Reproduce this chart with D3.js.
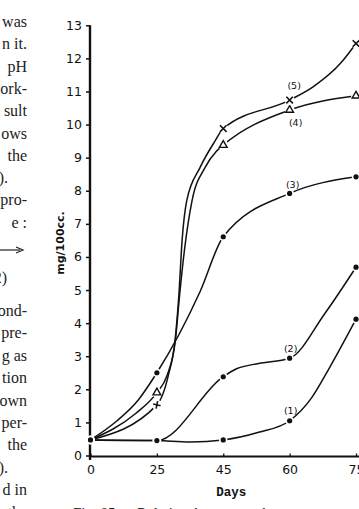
<!DOCTYPE html>
<html>
<head>
<meta charset="utf-8">
<script src="https://cdn.jsdelivr.net/npm/d3@7"></script>
<style>
html, body { margin: 0; padding: 0; background: #fff; overflow: hidden; }
svg { display: block; }
</style>
</head>
<body>
<svg id="chart"></svg>
<script>
// sampling days and their tick labels
const days = [0, 25, 45, 60, 75];
const dayLabels = ["0", "25", "45", "60", "75"];
const yTickValues = d3.range(0, 14);

// mg/100cc at each sampling day, curves (1) .. (5)
const curve1 = [0.47, 0.45, 0.47, 1.05, 4.12];
const curve2 = [0.47, 0.45, 2.38, 2.94, 5.69];
const curve3 = [0.47, 2.5, 6.61, 7.92, 8.42];
const curve4 = [0.47, 1.9, 9.38, 10.44, 10.87];
const curve5 = [0.47, 1.53, 9.88, 10.74, 12.45];

const bend1 = [[35, 0.41], [53, 0.7], [65, 1.75], [69, 2.65]];
const bend2 = [[48, 2.62], [53, 2.78], [68, 4.3]];
const bend3 = [[10, 1.05], [18, 1.68], [38, 4.95]];
const bend4 = [[17, 1.27], [28, 2.4], [30.6, 3.5], [31.8, 4.8], [33.3, 6.2], [35.6, 7.7], [39.5, 8.7], [43, 9.2]];
const bend5 = [[28.4, 2.4], [30.5, 3.5], [31.6, 4.8], [32.6, 6.5], [34, 7.7], [38, 8.7], [42.5, 9.5], [65.3, 11.14], [71.5, 11.85]];

const curveNames = ["(1)", "(2)", "(3)", "(4)", "(5)"];
const curveMarks = ["dot", "dot", "dot", "triangle", "x"];

// what shows of the book page around the figure
const pageTop = ["was", "n it.", "pH", "ork-", "sult", "ows", "the", ").", "pro-", "e :"];
const pageBottom = ["ond-", "pre-", "g as", "tion", "own", "per-", "the", ").", "d in", "the"];

class DaysChart {
    constructor(config) {
        this.config = {
            parent: config.parent,
            width: config.width || 359,
            height: config.height || 509,
            series: config.series,
            bends: config.bends
        };
        this.init();
    }

    init() {
        let self = this;

        self.svg = d3.select(self.config.parent)
            .attr("width", self.config.width)
            .attr("height", self.config.height)
            .style("background", "#fff");

        self.xPoint = d3.scalePoint()
            .domain(dayLabels)
            .range([90.5, 356]);

        // days are spaced evenly on the page, so piecewise linear between ticks
        self.x = d3.scaleLinear()
            .domain(days)
            .range(dayLabels.map(d => self.xPoint(d)));

        self.y = d3.scaleLinear()
            .domain([0, 13])
            .range([455.5, 25.3]);

        self.line = d3.line()
            .x(d => self.x(d[0]))
            .y(d => self.y(d[1]))
            .curve(d3.curveMonotoneX);

        self.render();
    }

    render() {
        let self = this;

        // page text on the left
        const page = self.svg.append("g")
            .attr("font-family", "'Liberation Serif', 'DejaVu Serif', serif")
            .attr("font-size", 16)
            .attr("fill", "#222")
            .attr("text-anchor", "end");

        page.selectAll(".top")
            .data(pageTop)
            .join("text")
            .attr("x", d => d === ")." ? 8 : 27)
            .attr("y", (d, i) => 27 + i * 22.3)
            .text(d => d);

        page.append("text")
            .attr("x", 7)
            .attr("y", 283)
            .text("2)");

        page.selectAll(".bottom")
            .data(pageBottom)
            .join("text")
            .attr("x", d => d === ")." ? 8 : 27)
            .attr("y", (d, i) => 316 + i * 22.4)
            .text(d => d);

        page.append("line")
            .attr("x1", 0).attr("x2", 20)
            .attr("y1", 250).attr("y2", 250)
            .attr("stroke", "#222").attr("stroke-width", 1.2);
        page.append("path")
            .attr("d", "M16,247 L23,250 L16,253")
            .attr("fill", "none")
            .attr("stroke", "#222").attr("stroke-width", 1.2);

        // caption, mostly cut off by the bottom edge
        const cap = self.svg.append("g")
            .attr("font-family", "'Liberation Serif', 'DejaVu Serif', serif")
            .attr("font-size", 15)
            .attr("fill", "#222");
        cap.append("text").attr("x", 73).attr("y", 518).text("Fig. 85.");
        cap.append("text").attr("x", 137).attr("y", 518)
            .attr("word-spacing", 3)
            .text("Relation bet ween the concentra");

        // axes
        const yAxis = d3.axisLeft(self.y)
            .tickValues(yTickValues)
            .tickSize(4)
            .tickSizeOuter(0)
            .tickPadding(4);

        const gy = self.svg.append("g")
            .attr("transform", "translate(90,0)")
            .call(yAxis);
        gy.select(".domain").remove();
        gy.selectAll(".tick line").attr("stroke", "#111").attr("stroke-width", 1.5);
        gy.selectAll(".tick text")
            .attr("font-family", "'DejaVu Sans', sans-serif")
            .attr("font-size", 12.5)
            .attr("fill", "#111");

        const xAxis = d3.axisBottom(self.x)
            .tickValues(days)
            .tickFormat((d, i) => dayLabels[i])
            .tickSize(-3)
            .tickSizeOuter(0)
            .tickPadding(8.5);

        const gx = self.svg.append("g")
            .attr("transform", "translate(0,456.5)")
            .call(xAxis);
        gx.select(".domain").remove();
        gx.selectAll(".tick line").attr("stroke", "#111").attr("stroke-width", 1.3);
        gx.selectAll(".tick text")
            .attr("font-family", "'DejaVu Sans', sans-serif")
            .attr("font-size", 12.5)
            .attr("fill", "#111");

        self.svg.append("line")
            .attr("x1", 90).attr("x2", 90)
            .attr("y1", self.y(13)).attr("y2", 460)
            .attr("stroke", "#111").attr("stroke-width", 2.4);

        self.svg.append("line")
            .attr("x1", 89).attr("x2", self.config.width)
            .attr("y1", 456.5).attr("y2", 456.5)
            .attr("stroke", "#111").attr("stroke-width", 2);

        self.svg.append("text")
            .attr("transform", "translate(64,243) rotate(-90)")
            .attr("text-anchor", "middle")
            .attr("font-family", "'DejaVu Sans', sans-serif")
            .attr("font-weight", "bold")
            .attr("font-size", 11)
            .attr("fill", "#111")
            .text("mg/100cc.");

        self.svg.append("text")
            .attr("x", self.xPoint("45") + 8)
            .attr("y", 496)
            .attr("text-anchor", "middle")
            .attr("font-family", "'Liberation Mono', 'DejaVu Sans Mono', monospace")
            .attr("font-weight", "bold")
            .attr("font-size", 12.5)
            .attr("fill", "#111")
            .text("Days");

        // curves
        const curves = self.config.series.map((vals, i) => {
            const pts = days.map((d, j) => [d, vals[j]])
                .concat(self.config.bends[i])
                .sort((a, b) => a[0] - b[0]);
            return { name: curveNames[i], mark: curveMarks[i], vals: vals, pts: pts };
        });

        self.svg.selectAll(".curve")
            .data(curves)
            .join("path")
            .attr("class", "curve")
            .attr("d", d => self.line(d.pts))
            .attr("fill", "none")
            .attr("stroke", "#111")
            .attr("stroke-width", 1.5);

        // markers, with a white halo so the line breaks around them
        const marks = [];
        curves.forEach((c, i) => {
            c.vals.forEach((v, j) => {
                let kind = j === 0 ? "dot" : c.mark;
                if (i === 4 && j === 1) kind = "plus";
                marks.push({ day: days[j], value: v, kind: kind });
            });
        });

        const cross = s => `M${-s},${-s}L${s},${s}M${-s},${s}L${s},${-s}`;
        const plus = s => `M${-s},0L${s},0M0,${-s}L0,${s}`;
        const tri = d3.symbol(d3.symbolTriangle, 26);

        const mg = self.svg.selectAll(".mark")
            .data(marks)
            .join("g")
            .attr("class", "mark")
            .attr("transform", d => `translate(${self.x(d.day)},${self.y(d.value)})`);

        mg.append("circle")
            .attr("r", d => d.kind === "dot" ? 4.3 : 5)
            .attr("fill", "#fff");

        mg.filter(d => d.kind === "dot")
            .append("circle")
            .attr("r", 2.6)
            .attr("fill", "#111");

        mg.filter(d => d.kind === "triangle")
            .append("path")
            .attr("d", tri())
            .attr("fill", "#fff")
            .attr("stroke", "#111")
            .attr("stroke-width", 1.4);

        mg.filter(d => d.kind === "x")
            .append("path")
            .attr("d", cross(3.3))
            .attr("stroke", "#111")
            .attr("stroke-width", 1.6);

        mg.filter(d => d.kind === "plus")
            .append("path")
            .attr("d", plus(3.8))
            .attr("transform", "rotate(12)")
            .attr("stroke", "#111")
            .attr("stroke-width", 1.6);

        // curve names next to the day 60 sample
        const nameOffsets = [[1, -10], [1, -10], [3, -8.5], [6, 12.5], [4.5, -14.5]];
        self.svg.selectAll(".name")
            .data(curves)
            .join("text")
            .attr("class", "name")
            .attr("x", (d, i) => self.x(60) + nameOffsets[i][0])
            .attr("y", (d, i) => self.y(d.vals[3]) + nameOffsets[i][1])
            .attr("dy", "0.35em")
            .attr("text-anchor", "middle")
            .attr("font-family", "'DejaVu Sans', sans-serif")
            .attr("font-size", 9.5)
            .attr("fill", "#111")
            .text(d => d.name);
    }
}

new DaysChart({
    parent: "#chart",
    width: 359,
    height: 509,
    series: [curve1, curve2, curve3, curve4, curve5],
    bends: [bend1, bend2, bend3, bend4, bend5]
});
</script>
</body>
</html>
